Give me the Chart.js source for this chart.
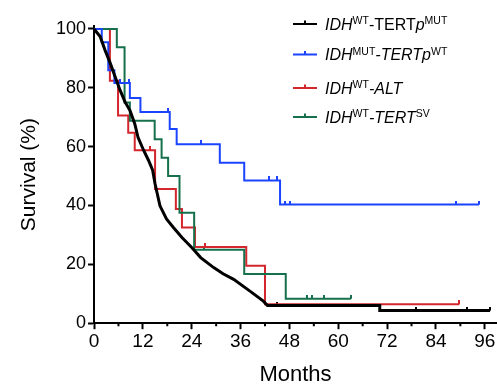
<!DOCTYPE html>
<html>
<head>
<meta charset="utf-8">
<script src="https://cdn.jsdelivr.net/npm/chart.js@4.4.1/dist/chart.umd.min.js"></script>
<style>
  html, body { margin: 0; padding: 0; background: #fff; }
  #wrap { width: 497px; height: 386px; position: relative; }
</style>
</head>
<body>
<div id="wrap"><canvas id="myChart"></canvas></div>
<script>
// Kaplan-Meier curves: months / survival (%)
const tertpMutMonths = [0, 1.5, 2.7, 4.0, 5.2, 6.4, 7.6, 8.8, 10.0, 10.8, 12.2, 13.4, 14.4, 15.0, 16.2, 17.8, 19.5, 21.6, 24.0, 26.2, 29.4, 31.7, 34.3, 38.3, 41.6, 42.6, 70.2, 70.2, 97.3];
const tertpMutSurv = [100, 97.4, 92.8, 88.3, 83.7, 79.2, 75.2, 72.4, 67.8, 63.2, 58.7, 55.3, 52, 47.3, 39.9, 35.4, 32.5, 29.1, 25.7, 22.3, 18.9, 16.8, 14.9, 10.9, 7.5, 6, 6, 4.3, 4.3];
const tertpMutCensMonths = [44.9, 79.1, 91.6, 97.3];
const tertpMutCensSurv = [6, 4.3, 4.3, 4.3];

const idhMutMonths = [0, 1.9, 3.5, 5.0, 8.8, 11.4, 18.6, 20.3, 30.9, 36.9, 45.7, 94.6];
const idhMutSurv = [100, 95.5, 86, 81.6, 76.5, 71.8, 66, 60.8, 54.5, 48.5, 40.3, 40.3];
const idhMutCensMonths = [6.4, 8.7, 18.2, 26.4, 43.0, 44.9, 46.9, 48.1, 89.0, 94.6];
const idhMutCensSurv = [81.6, 81.6, 71.8, 60.8, 48.5, 48.5, 40.3, 40.3, 40.3, 40.3];

const altMonths = [0, 3.9, 5.9, 8.4, 10.0, 15.0, 20.1, 21.6, 24.8, 37.4, 42.0, 89.7];
const altSurv = [100, 82.4, 70.6, 64.7, 58.8, 45.6, 38.8, 32.5, 25.9, 19.5, 6.4, 6.4];
const altCensMonths = [13.8, 27.3, 89.7];
const altCensSurv = [58.8, 25.9, 6.4];

const tertSvMonths = [0, 5.6, 7.5, 8.8, 14.9, 16.6, 18.2, 21.0, 24.6, 36.9, 47.1, 63.1];
const tertSvSurv = [100, 93.8, 75, 68.8, 62.5, 56.2, 50, 37.5, 25, 16.7, 8.3, 8.3];
const tertSvCensMonths = [27.1, 52.4, 53.6, 56.6, 63.1];
const tertSvCensSurv = [25, 8.3, 8.3, 8.3, 8.3];

const xTicks = [0, 12, 24, 36, 48, 60, 72, 84, 96];
const yTicks = [0, 20, 40, 60, 80, 100];

const colors = ["#000000", "#1a44ff", "#d3262d", "#15704b"];
// legend text runs: [text, style] i = italic, s = superscript, "" = upright
const legendRows = [
  [["IDH", "i"], ["WT", "s"], ["-TERT", ""], ["p", "i"], ["MUT", "s"]],
  [["IDH", "i"], ["MUT", "s"], ["-TERT", "i"], ["p", "i"], ["WT", "s"]],
  [["IDH", "i"], ["WT", "s"], ["-ALT", "i"]],
  [["IDH", "i"], ["WT", "s"], ["-TERT", "i"], ["SV", "s"]],
];

function pts(xs, ys) {
  return xs.map((x, i) => ({ x: x, y: ys[i] }));
}

// small upward tick used for censored cases
function censorMark(color) {
  const c = document.createElement("canvas");
  c.width = 2;
  c.height = 8;
  const g = c.getContext("2d");
  g.fillStyle = color;
  g.fillRect(0, 0, 2, 4);
  return c;
}

function curve(data, color, width, stepped) {
  return {
    data: data,
    borderColor: color,
    borderWidth: width,
    stepped: stepped,
    pointRadius: 0,
    fill: false,
    tension: 0,
  };
}

function censors(data, color) {
  return {
    data: data,
    showLine: false,
    pointStyle: censorMark(color),
    pointRadius: 4,
    borderColor: color,
    backgroundColor: color,
  };
}

const legendPlugin = {
  id: "kmLegend",
  afterDraw(chart) {
    const ctx = chart.ctx;
    const rowsY = [24, 54.5, 88, 117];
    const x0 = 293;
    const fam = '"Liberation Sans", Arial, Helvetica, sans-serif';
    ctx.save();
    legendRows.forEach((row, i) => {
      const y = rowsY[i];
      ctx.strokeStyle = colors[i];
      ctx.lineWidth = 2;
      ctx.beginPath();
      ctx.moveTo(x0, y);
      ctx.lineTo(x0 + 24, y);
      ctx.moveTo(x0 + 12, y);
      ctx.lineTo(x0 + 12, y - 3.5);
      ctx.stroke();
      let x = x0 + 32;
      const base = y + 5.8;
      ctx.fillStyle = "#000";
      ctx.textBaseline = "alphabetic";
      row.forEach(([t, s]) => {
        if (s === "s") {
          ctx.font = "10.5px " + fam;
          ctx.fillText(t, x, base - 5.8);
        } else {
          ctx.font = (s === "i" ? "italic " : "") + "16px " + fam;
          ctx.fillText(t, x, base);
        }
        x += ctx.measureText(t).width;
      });
    });
    ctx.restore();
  },
};

const minorTicks = {
  id: "minorTicks",
  afterDraw(chart) {
    const xs = chart.scales.x;
    const ctx = chart.ctx;
    ctx.save();
    ctx.strokeStyle = "#000";
    ctx.lineWidth = 2;
    ctx.beginPath();
    for (let i = 0; i < xTicks.length - 1; i++) {
      const px = xs.getPixelForValue((xTicks[i] + xTicks[i + 1]) / 2);
      ctx.moveTo(px, xs.top);
      ctx.lineTo(px, xs.top + 3);
    }
    ctx.stroke();
    ctx.restore();
  },
};

const font = { family: '"Liberation Sans", Arial, Helvetica, sans-serif' };

new Chart("myChart", {
  type: "line",
  data: {
    datasets: [
      curve(pts(tertpMutMonths, tertpMutSurv), colors[0], 3, false),
      curve(pts(idhMutMonths, idhMutSurv), colors[1], 2, true),
      curve(pts(tertSvMonths, tertSvSurv), colors[3], 2, true),
      curve(pts(altMonths, altSurv), colors[2], 2, true),
      censors(pts(tertpMutCensMonths, tertpMutCensSurv), colors[0]),
      censors(pts(idhMutCensMonths, idhMutCensSurv), colors[1]),
      censors(pts(altCensMonths, altCensSurv), colors[2]),
      censors(pts(tertSvCensMonths, tertSvCensSurv), colors[3]),
    ],
  },
  options: {
    responsive: true,
    maintainAspectRatio: false,
    devicePixelRatio: 1,
    animation: false,
    clip: false,
    layout: { autoPadding: false, padding: { top: 26, right: 0, bottom: 0, left: 17 } },
    plugins: {
      legend: { display: false },
      tooltip: { enabled: false },
    },
    scales: {
      x: {
        type: "linear",
        min: 0,
        max: 99,
        afterBuildTicks: (s) => { s.ticks = xTicks.map((v) => ({ value: v })); },
        afterFit: (s) => { s.paddingRight = 0; },
        ticks: { color: "#000", font: { ...font, size: 19 }, padding: 1, maxRotation: 0, autoSkip: false },
        grid: { drawOnChartArea: false, tickLength: 6, tickWidth: 2, tickColor: "#000" },
        border: { color: "#000", width: 2 },
        title: { display: true, text: "Months", color: "#000", font: { ...font, size: 22, lineHeight: 1 }, padding: { top: 10, bottom: 0 } },
      },
      y: {
        min: 0,
        max: 101,
        afterBuildTicks: (s) => { s.ticks = yTicks.map((v) => ({ value: v })); },
        ticks: { color: "#000", font: { ...font, size: 18 }, padding: 2 },
        grid: { drawOnChartArea: false, tickLength: 6, tickWidth: 2, tickColor: "#000" },
        border: { color: "#000", width: 2 },
        title: { display: true, text: "Survival (%)", color: "#000", font: { ...font, size: 21, lineHeight: 1.2 }, padding: { top: 0, bottom: 11.8 } },
      },
    },
  },
  plugins: [legendPlugin, minorTicks],
});
</script>
</body>
</html>
